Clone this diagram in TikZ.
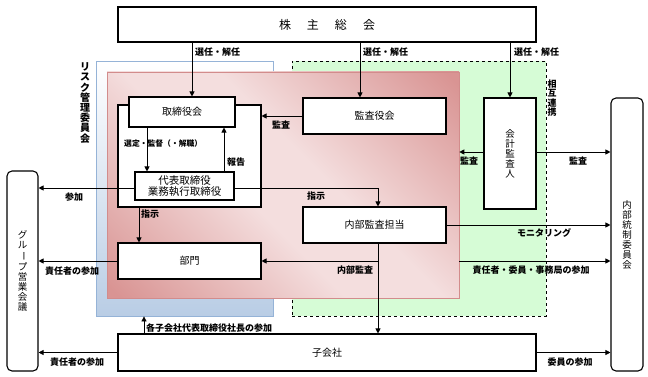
\documentclass[tikz,border=0pt]{standalone}
\usepackage{fontspec}
\usepackage{graphicx}
\setmainfont{Noto Sans CJK JP}
\usetikzlibrary{arrows.meta,calc}
\definecolor{pinkD}{RGB}{217,148,147}
\definecolor{pinkL}{RGB}{244,222,222}
\definecolor{pinkB}{RGB}{210,140,140}
\definecolor{blueB}{RGB}{149,179,215}
\definecolor{blueF}{RGB}{185,205,229}
\definecolor{greenF}{RGB}{214,252,214}
\pgfdeclareverticalshading{pinkgrad}{100bp}{color(0bp)=(pinkD); color(16bp)=(pinkD); color(44bp)=(pinkL); color(56bp)=(pinkL); color(84bp)=(pinkD); color(100bp)=(pinkD)}
\begin{document}
\begin{tikzpicture}[x=1pt,y=-1pt,
  box/.style={draw, line width=1.1pt, fill=white, inner sep=0pt, font=\fontsize{10}{12}\selectfont},
  rbox/.style={box, rounded corners=5pt},
  ln/.style={line width=0.8pt},
  arr/.style={ln, -{Triangle[length=5pt,width=5pt]}},
  lab/.style={inner sep=0pt, font=\fontsize{9}{9.5}\selectfont\bfseries},
  vt/.style={align=center, inner sep=0pt, font=\fontsize{9.5}{10}\selectfont}
]
\useasboundingbox (0,0) rectangle (648,377);
% regions
\node[draw=blueB, line width=0.8pt, top color=white, bottom color=blueF, minimum width=177pt, minimum height=255pt, inner sep=0pt] (blue) at (184.5,188.5) {};
\node[draw, dashed, line width=0.8pt, fill=greenF, minimum width=254pt, minimum height=255pt, inner sep=0pt] (green) at (419,188.5) {};
\node[draw=pinkB, line width=0.6pt, shading=pinkgrad, shading angle=-45, minimum width=352pt, minimum height=226pt, inner sep=0pt] (pink) at (283,185) {};
% boxes
\node[box, minimum width=418pt, minimum height=35pt, font=\fontsize{12}{14}\selectfont] (sh) at (327,24.5) {株\hspace{16pt}主\hspace{16pt}総\hspace{16pt}会};
\node[box, minimum width=143pt, minimum height=102pt] (brd) at (189.5,156) {};
\node[box, minimum width=106pt, minimum height=30pt] (bod) at (182,112) {取締役会};
\node[box, minimum width=99pt, minimum height=28pt, align=center, font=\fontsize{10.5}{11.5}\selectfont] (rep) at (184.5,186) {代表取締役\\業務執行取締役};
\node[box, minimum width=143pt, minimum height=36pt] (kansa) at (374.5,116) {監査役会};
\node[box, minimum width=52pt, minimum height=111pt] (acct) at (510,153.5) {};
\node[vt] at (acct.center) {会\\計\\監\\査\\人};
\node[rbox, minimum width=32pt, minimum height=273pt] (ic) at (627,234.5) {};
\node[vt] at (ic.center) {内\\部\\統\\制\\委\\員\\会};
\node[rbox, minimum width=31pt, minimum height=200pt] (grp) at (22.5,271) {};
\node[vt] at (grp.center) {グ\\ル\\\rotatebox[origin=c]{-90}{ー}\\プ\\営\\業\\会\\議};
\node[box, minimum width=143pt, minimum height=36pt] (ia) at (374.5,225) {内部監査担当};
\node[box, minimum width=143pt, minimum height=36pt] (dept) at (189.5,261) {部門};
\node[box, minimum width=418pt, minimum height=37pt] (sub) at (327,352.5) {子会社};
% outside labels
\node[vt, font=\fontsize{10}{10.2}\selectfont\bfseries] (risk) at (85,103) {リ\\ス\\ク\\管\\理\\委\\員\\会};
\node[vt, font=\fontsize{9}{9.2}\selectfont\bfseries] (mutual) at (552,98) {相\\互\\連\\携};
% helper coordinates
\coordinate (xA) at (192,0);
\coordinate (xB) at (360,0);
\coordinate (xC) at (510,0);
\coordinate (xD) at (147,0);
\coordinate (xE) at (224,0);
\coordinate (xF) at (378,0);
\coordinate (xG) at (139,0);
\coordinate (xH) at (144,0);
\coordinate (yB) at (0,152);
\coordinate (yR) at (0,188);
% connectors
\draw[arr] (sh.south -| xA) -- (xA |- bod.north);
\draw[arr] (sh.south -| xB) -- (xB |- kansa.north);
\draw[arr] (sh.south -| xC) -- (xC |- acct.north);
\node[lab, anchor=west] (l1) at (195,52) {選任・解任};
\node[lab, anchor=west] (l2) at (363,52) {選任・解任};
\node[lab, anchor=west] (l3) at (514,52) {選任・解任};
\draw[arr] (kansa.west) -- (kansa.west -| brd.east);
\node[lab] (l4) at (281,125) {監査};
\draw[arr] (acct.west |- yB) -- (pink.east |- yB);
\node[lab] (l5) at (469,161) {監査};
\draw[arr] (acct.east |- yB) -- (ic.west |- yB);
\node[lab] (l6) at (578,161) {監査};
\draw[arr] (bod.south -| xD) -- (xD |- rep.north);
\node[lab, anchor=west, font=\fontsize{7.8}{8}\selectfont\bfseries] (l7) at (124,144) {選定・監督（・解職）};
\draw[arr] (rep.north -| xE) -- (xE |- bod.south);
\node[lab] (l8) at (236,162) {報告};
\draw[arr] (rep.west |- yR) -- (grp.east |- yR);
\node[lab] (l9) at (74,197) {参加};
\draw[arr] (rep.east |- yR) -| (ia.north -| xF);
\node[lab] (l10) at (316,196) {指示};
\draw[arr] (brd.south -| xG) -- (xG |- dept.north);
\node[lab] (l11) at (150,214) {指示};
\draw[arr] (ia.south -| xF) -- (xF |- sub.north);
\draw[arr] (xF |- dept.east) -- (dept.east);
\node[lab] (l12) at (355,270) {内部監査};
\draw[arr] (ia.east) -- (ia.east -| ic.west);
\node[lab] (l13) at (544,233) {モニタリング};
\draw[arr] (dept.west) -- (dept.west -| grp.east);
\node[lab] (l14) at (72,271) {責任者の参加};
\draw[arr] (pink.east |- dept.east) -- (ic.west |- dept.east);
\node[lab] (l15) at (531,270) {責任者・委員・事務局の参加};
\draw[arr] (sub.west) -- (sub.west -| grp.east);
\node[lab] (l16) at (77,362) {責任者の参加};
\draw[arr] (sub.east) -- (sub.east -| ic.west);
\node[lab] (l17) at (570,362) {委員の参加};
\draw[arr] (sub.north -| xH) -- (xH |- blue.south);
\node[lab, anchor=west] (l18) at (146,328) {各子会社代表取締役社長の参加};
\end{tikzpicture}
\end{document}
